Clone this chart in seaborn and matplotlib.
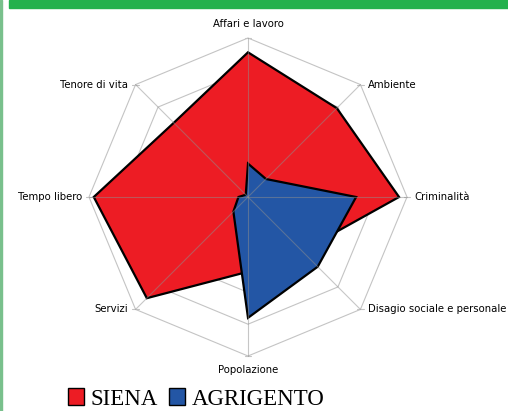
import numpy as np
import matplotlib
matplotlib.use("Agg")
import matplotlib.pyplot as plt
from matplotlib.patches import Patch, Rectangle
import seaborn as sns

categories = ["Affari e lavoro", "Ambiente", "Criminalità", "Disagio sociale e personale",
              "Popolazione", "Servizi", "Tempo libero", "Tenore di vita"]
siena = [0.91, 0.79, 0.95, 0.48, 0.47, 0.90, 0.97, 0.66]
agrigento = [0.21, 0.16, 0.68, 0.62, 0.76, 0.13, 0.06, 0.02]
series = ["SIENA", "AGRIGENTO"]
colors = ["#ed1c24", "#2356a5"]
rings = [0.2, 0.4, 0.6, 0.8, 1.0]

sns.set_theme(style="white")
plt.rcParams["font.family"] = ["DejaVu Sans"]

n = len(categories)
angles = np.pi / 2 - np.arange(n) * 2 * np.pi / n
cx, cy = np.cos(angles), np.sin(angles)

fig = plt.figure(figsize=(5.08, 4.11), dpi=100)
ax = fig.add_axes([0, 0, 1, 1])
ax.set_xlim(-248 / 159, 260 / 159)
ax.set_ylim(-214 / 159, 197 / 159)
ax.axis("off")

# grid rings
for r in rings:
    ax.fill(r * cx, r * cy, fill=False, edgecolor="#c4c4c4", lw=0.8, zorder=1)

# series
for vals, col, z in zip([siena, agrigento], colors, [2, 3]):
    v = np.array(vals)
    ax.fill(v * cx, v * cy, facecolor=col, edgecolor="black", lw=1.6, zorder=z)

# spokes over the fills
for x, y in zip(cx, cy):
    ax.plot([0, x], [0, y], color="#8f8f8f", alpha=0.5, lw=0.8, zorder=4)
    ax.plot([x - 0.02, x + 0.02], [y, y], color="#c4c4c4", lw=0.8, zorder=1)

# category labels
for lab, x, y in zip(categories, cx, cy):
    if abs(x) < 0.1:
        ax.text(0, y * 1.085, lab, ha="center", va="center", fontsize=7.3, color="black")
    else:
        ha = "left" if x > 0 else "right"
        ax.text(x + 0.045 * np.sign(x), y, lab, ha=ha, va="center", fontsize=7.3, color="black")

# green header bar and left border
fig.patches.append(Rectangle((9 / 508, 1 - 8 / 411), 499 / 508, 8 / 411,
                             transform=fig.transFigure, color="#23b14d", zorder=0))
fig.patches.append(Rectangle((0, 0), 2 / 508, 1, transform=fig.transFigure,
                             color="#79c08c", zorder=0))

handles = [Patch(facecolor=c, edgecolor="black", lw=1.0) for c in colors]
leg = fig.legend(handles, series, loc="center left", bbox_to_anchor=(68 / 508, 1 - 399 / 411),
                 ncol=2, frameon=False, prop={"family": "Liberation Serif", "size": 16.5},
                 handlelength=0.7, handleheight=0.7, handletextpad=0.28, columnspacing=0.5,
                 borderpad=0, borderaxespad=0)
for t in leg.get_texts():
    t.set_color("black")

fig.savefig("out.png", dpi=100)
